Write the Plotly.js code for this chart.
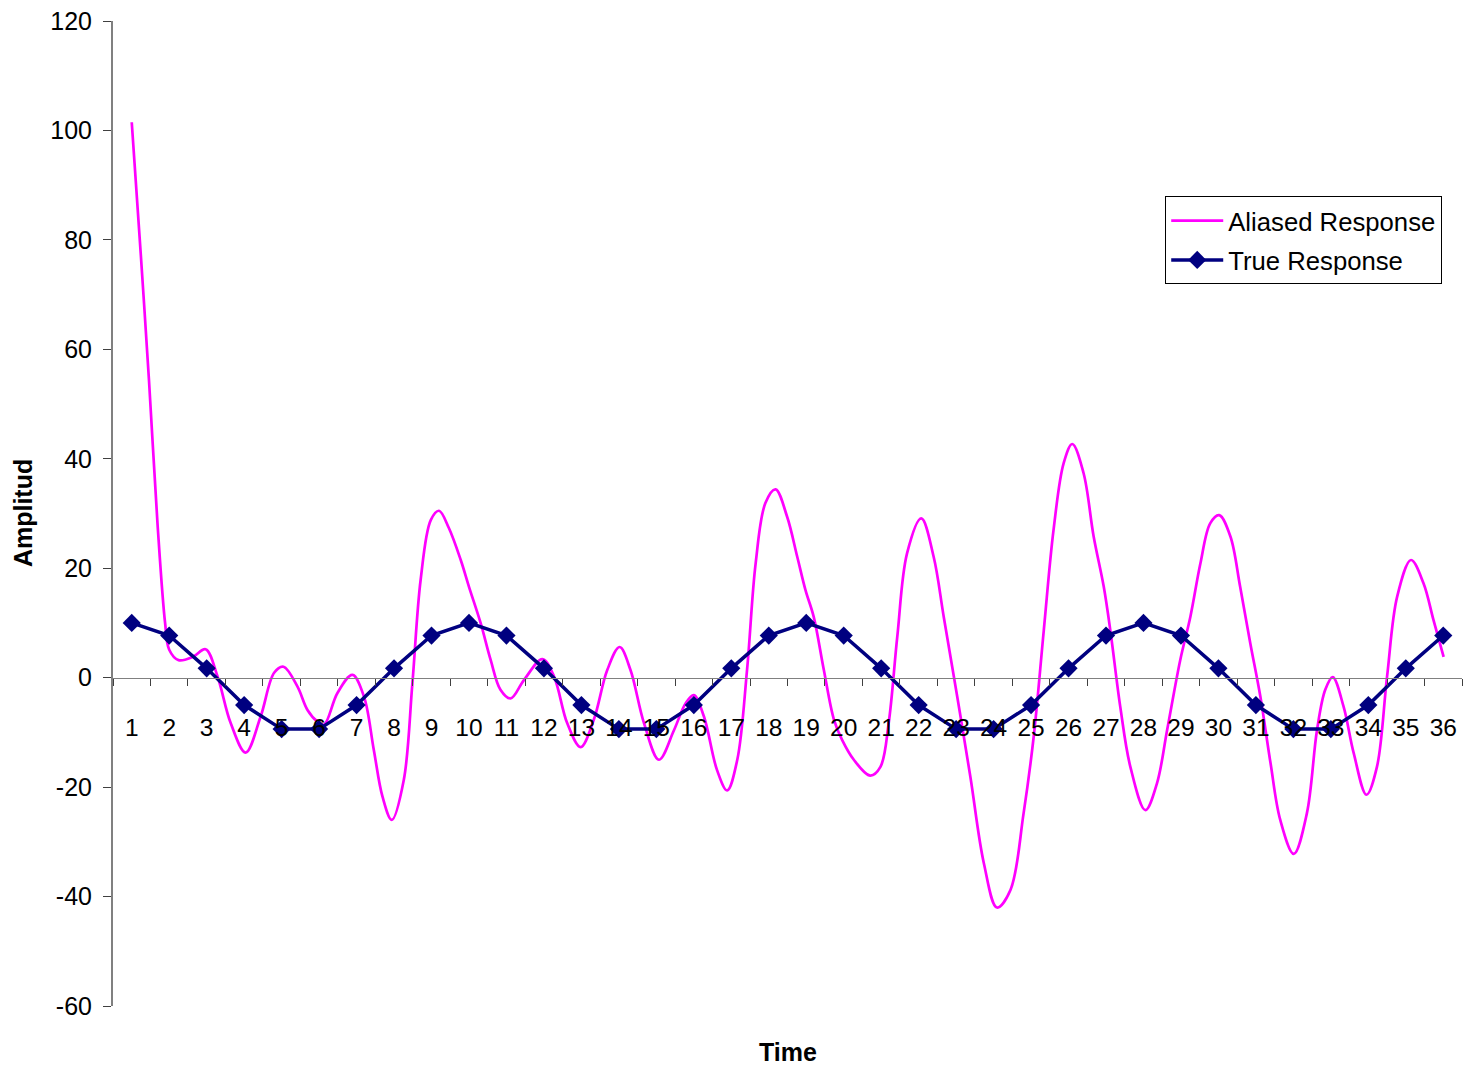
<!DOCTYPE html>
<html>
<head>
<meta charset="utf-8">
<script src="https://cdn.plot.ly/plotly-3.0.1.min.js"></script>
<style>html,body{margin:0;padding:0;background:#fff;}#chart{width:1478px;height:1070px;}</style>
</head>
<body>
<div id="chart"></div>
<script>
// Categories (time steps) and tick labels
var timeSteps = [];
for (var i = 1; i <= 36; i++) timeSteps.push(i);
var timeLabels = timeSteps.map(String);

// True Response (one value per time step)
var trueResponse = [10, 7.7, 1.7, -5, -9.4, -9.4, -5, 1.7, 7.7,
                    10, 7.7, 1.7, -5, -9.4, -9.4, -5, 1.7, 7.7,
                    10, 7.7, 1.7, -5, -9.4, -9.4, -5, 1.7, 7.7,
                    10, 7.7, 1.7, -5, -9.4, -9.4, -5, 1.7, 7.7];

// Aliased Response (time in step units)
var aliasedTime = [1.00, 1.24, 1.46, 1.69, 1.89, 2.00, 2.25, 2.63, 2.97, 3.29,
  3.64, 4.04, 4.44, 4.80, 5.05, 5.42, 5.69, 5.95, 6.13, 6.49,
  6.89, 7.20, 7.46, 7.69, 7.94, 8.26, 8.49, 8.71, 8.98, 9.20,
  9.46, 9.78, 10.00, 10.31, 10.58, 10.84, 11.11, 11.47, 11.96, 12.27,
  12.62, 12.98, 13.33, 13.69, 14.02, 14.31, 14.67, 15.07, 15.47, 15.78,
  16.00, 16.27, 16.62, 16.89, 17.16, 17.42, 17.65, 17.91, 18.18, 18.49,
  18.76, 18.98, 19.20, 19.47, 19.74, 19.96, 20.27, 20.71, 20.98, 21.20,
  21.43, 21.69, 22.07, 22.40, 22.67, 23.03, 23.38, 23.74, 24.09, 24.45,
  24.80, 25.07, 25.34, 25.60, 25.87, 26.10, 26.40, 26.67, 26.94, 27.12,
  27.38, 27.65, 28.05, 28.36, 28.63, 28.98, 29.25, 29.52, 29.78, 30.02,
  30.32, 30.58, 30.85, 31.12, 31.39, 31.65, 32.01, 32.36, 32.63, 32.85,
  33.05, 33.34, 33.61, 33.95, 34.23, 34.50, 34.77, 35.14, 35.47, 35.74, 36.01];
var aliasedResponse = [101.5, 77.5, 54.4, 27.9, 10.0, 5.1, 3.2, 3.8, 5.2, 0.2,
  -8.3, -13.7, -7.1, 0.9, 2.0, -1.6, -5.9, -8.0, -8.6, -2.8,
  0.5, -3.5, -13.2, -21.7, -26.0, -18.7, -1.0, 17.9, 28.8, 30.5,
  27.4, 21.5, 16.6, 10.0, 3.2, -2.2, -3.8, -0.4, 3.4, 0.2,
  -8.3, -12.7, -7.7, 1.4, 5.6, 1.4, -8.3, -15.0, -9.6, -4.7,
  -3.2, -7.1, -16.9, -20.6, -15.0, 1.4, 20.9, 31.9, 34.4, 29.4,
  22.1, 16.0, 11.1, 1.4, -7.7, -11.4, -15.0, -17.9, -16.3, -8.3,
  7.5, 22.7, 29.1, 22.1, 11.1, -3.5, -18.1, -33.9, -42.0, -38.8,
  -24.8, -10.8, 8.7, 27.0, 39.2, 42.7, 37.4, 25.8, 16.6, 8.4,
  -5.3, -16.3, -24.2, -19.3, -9.6, 3.2, 11.1, 20.9, 28.2, 29.7,
  25.8, 16.6, 6.3, -3.5, -15.6, -26.0, -32.2, -24.8, -9.6, -2.2,
  0.1, -5.3, -13.8, -21.4, -16.3, 0.2, 14.8, 21.5, 17.3, 10.5, 3.8];

var yTicks = [-60, -40, -20, 0, 20, 40, 60, 80, 100, 120];
var yTickLabels = ['-60', '-40', '-20', '0', '20', '40', '60', '80', '100', '120'];
var boundaries = [];
for (var b = 0; b <= 36; b++) boundaries.push(b + 0.5);

var FONT = 'Liberation Sans, Arial, Helvetica, sans-serif';

var traces = [
  {
    name: 'Aliased Response',
    x: aliasedTime, y: aliasedResponse,
    type: 'scatter', mode: 'lines',
    line: {color: '#FF00FF', width: 2.7, shape: 'spline', smoothing: 1},
    legendgroup: 'a'
  },
  {
    name: 'True Response',
    x: timeSteps, y: trueResponse,
    type: 'scatter', mode: 'lines+markers',
    line: {color: '#000080', width: 3.5},
    marker: {symbol: 'diamond', size: 14, color: '#000080'},
    legendgroup: 'b'
  }
];

var layout = {
  width: 1478, height: 1070,
  paper_bgcolor: '#ffffff', plot_bgcolor: 'rgba(0,0,0,0)',
  margin: {l: 113, r: 16, t: 21, b: 64},
  font: {family: FONT, color: '#000000', size: 24},
  showlegend: true,
  xaxis: {
    range: [0.5, 36.5],
    anchor: 'free', position: 1/3,
    tickmode: 'array', tickvals: timeSteps, ticktext: timeLabels,
    ticks: 'outside', ticklen: 27, tickcolor: 'rgba(0,0,0,0)',
    tickfont: {size: 24.5, family: FONT, color: '#000'},
    showline: true, linecolor: '#808080', linewidth: 1.5,
    showgrid: false, zeroline: false,
    minor: {tickmode: 'array', tickvals: boundaries, ticks: 'outside', ticklen: 7, tickcolor: '#404040', tickwidth: 1, showgrid: false}
  },
  yaxis: {
    range: [-60, 120], domain: [0, 1],
    tickmode: 'array', tickvals: yTicks, ticktext: yTickLabels,
    ticks: 'outside', ticklen: 8, tickcolor: '#404040', tickwidth: 1,
    ticklabelstandoff: 6,
    tickfont: {size: 25, family: FONT, color: '#000'},
    showline: true, linecolor: '#808080', linewidth: 2,
    showgrid: false, zeroline: false
  },
  legend: {
    x: 0.78, y: 0.822, xanchor: 'left', yanchor: 'top',
    bgcolor: '#ffffff', bordercolor: '#000000', borderwidth: 1,
    font: {family: FONT, size: 25.7, color: '#000'},
    traceorder: 'grouped', tracegroupgap: 3, itemwidth: 52
  },
  annotations: [
    {text: '<b>Time</b>', xref: 'paper', yref: 'paper', x: 0.5, y: -0.047,
     xanchor: 'center', yanchor: 'middle', showarrow: false,
     font: {family: FONT, size: 25, color: '#000'}},
    {text: '<b>Amplitud</b>', xref: 'paper', yref: 'paper', x: -0.067, y: 0.5,
     xanchor: 'center', yanchor: 'middle', showarrow: false, textangle: -90,
     font: {family: FONT, size: 25, color: '#000'}}
  ]
};

Plotly.newPlot('chart', traces, layout, {displayModeBar: false, staticPlot: true});
</script>
</body>
</html>
